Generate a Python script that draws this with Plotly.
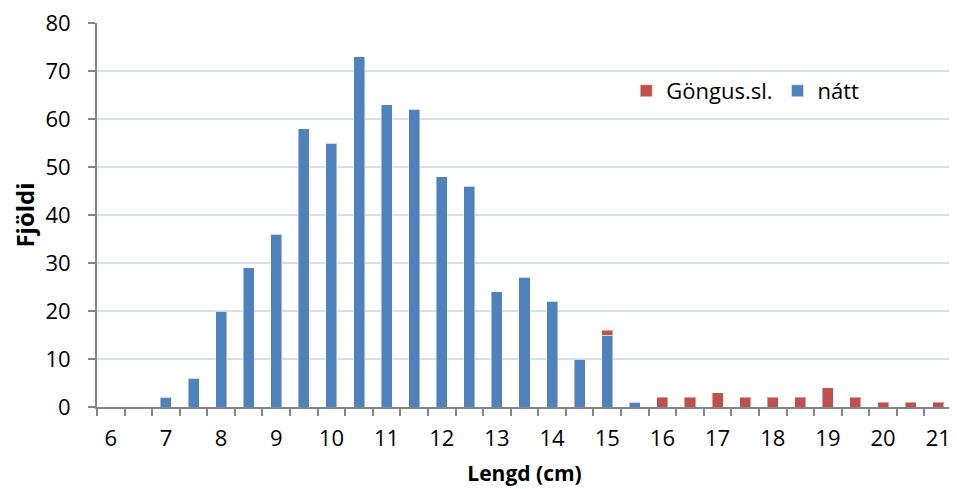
import plotly.graph_objects as go

lengths = [6, 6.5, 7, 7.5, 8, 8.5, 9, 9.5, 10, 10.5, 11, 11.5, 12, 12.5, 13, 13.5,
           14, 14.5, 15, 15.5, 16, 16.5, 17, 17.5, 18, 18.5, 19, 19.5, 20, 20.5, 21]
natt = [0, 0, 2, 6, 20, 29, 36, 58, 55, 73, 63, 62, 48, 46, 24, 27,
        22, 10, 15, 1, 0, 0, 0, 0, 0, 0, 0, 0, 0, 0, 0]
gongus = [0, 0, 0, 0, 0, 0, 0, 0, 0, 0, 0, 0, 0, 0, 0, 0,
          0, 0, 1, 0, 2, 2, 3, 2, 2, 2, 4, 2, 1, 1, 1]
x_ticks = [6, 7, 8, 9, 10, 11, 12, 13, 14, 15, 16, 17, 18, 19, 20, 21]
y_ticks = [0, 10, 20, 30, 40, 50, 60, 70, 80]

FONT = "Open Sans"
AXIS = "#868686"
GRID = "#D5DFF0"

fig = go.Figure()
fig.add_trace(go.Bar(x=lengths, y=natt, name="nátt", width=0.2,
                     marker=dict(color="#4F81BD", line=dict(color="rgba(255,255,255,0.45)", width=1))))
fig.add_trace(go.Bar(x=lengths, y=gongus, name="Göngus.sl.", width=0.2,
                     marker=dict(color="#C0504D", line=dict(color="rgba(255,255,255,0.45)", width=1))))

# page body has an 8px margin: figure is sized so the plot lands where the reference has it
fig.update_layout(
    width=949, height=481,
    barmode="stack",
    paper_bgcolor="white", plot_bgcolor="white",
    margin=dict(l=89, r=5, t=15, b=82, autoexpand=False),
    font=dict(family=FONT, size=22, color="#000000"),
    showlegend=True,
    legend=dict(orientation="h", x=0.619, y=0.823, xanchor="left", yanchor="middle",
                traceorder="reversed", font=dict(family=FONT, size=22),
                itemwidth=30, bgcolor="rgba(0,0,0,0)"),
    xaxis=dict(
        range=[5.75, 21.25], tickmode="array", tickvals=x_ticks,
        ticktext=[str(v) for v in x_ticks], automargin=False,
        ticks="", showline=True, linecolor=AXIS, linewidth=2,
        showgrid=False, zeroline=False, ticklabelstandoff=11,
        ticklabeloverflow="allow",
        tickfont=dict(family=FONT, size=22),
        minor=dict(tick0=5.75, dtick=0.5, ticks="outside", ticklen=7, tickcolor=AXIS, tickwidth=2, showgrid=False),
        title=dict(text="<b>Lengd (cm)</b>", font=dict(family=FONT, size=21)),
    ),
    yaxis=dict(
        range=[0, 80], tickmode="array", tickvals=y_ticks, automargin=False,
        ticks="outside", ticklen=7, tickcolor=AXIS, tickwidth=2,
        showline=True, linecolor=AXIS, linewidth=2, ticklabelstandoff=13,
        ticklabeloverflow="allow",
        showgrid=True, gridcolor=GRID, gridwidth=2, zeroline=False,
        tickfont=dict(family=FONT, size=22),
        title=dict(text="<b>Fjöldi</b>", font=dict(family=FONT, size=24)),
    ),
)

fig.write_html("out.html")
